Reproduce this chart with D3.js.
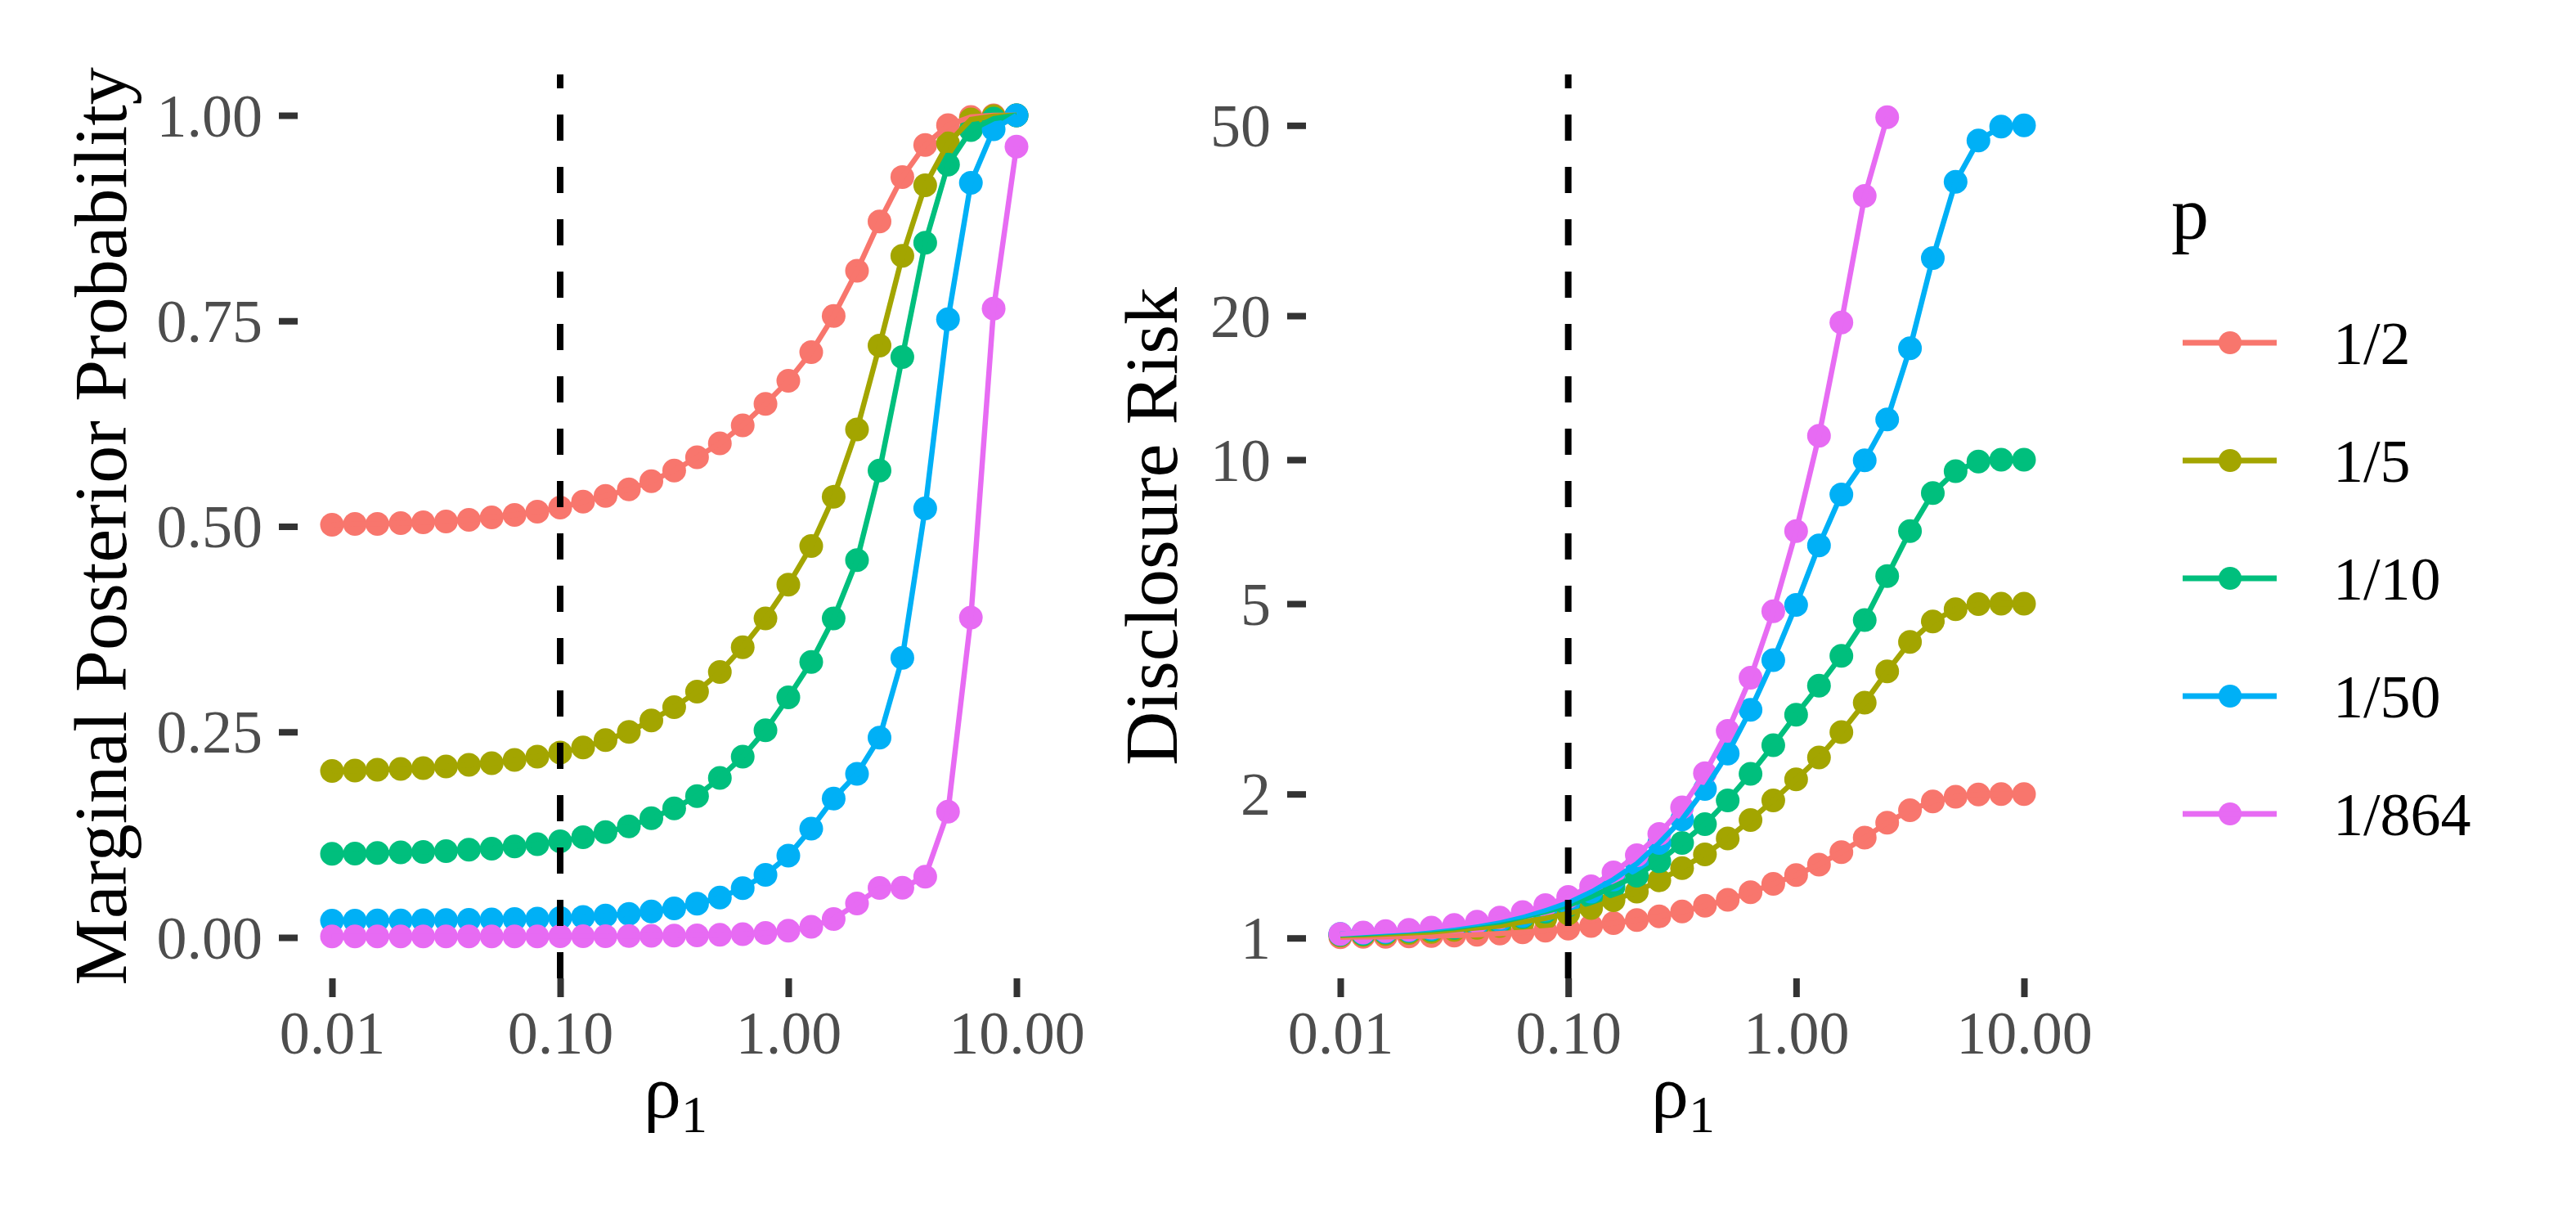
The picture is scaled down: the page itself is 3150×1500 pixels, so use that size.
<!DOCTYPE html>
<html>
<head>
<meta charset="utf-8">
<script src="https://cdn.jsdelivr.net/npm/d3@7"></script>
<style>
  body { margin: 0; background: #fff; }
</style>
</head>
<body>
<svg id="chart" width="3150" height="1500"></svg>
<script>
// rho grid (10 points per decade)
const rho = [0.01, 0.0126, 0.0158, 0.02, 0.0251, 0.0316, 0.0398, 0.0501, 0.0631, 0.0794,
  0.1, 0.126, 0.158, 0.2, 0.251, 0.316, 0.398, 0.501, 0.631, 0.794,
  1, 1.26, 1.58, 2, 2.51, 3.16, 3.98, 5.01, 6.31, 7.94, 10];

const pLabels = ['1/2', '1/5', '1/10', '1/50', '1/864'];

// marginal posterior probability, one array per p
const postHalf = [0.502, 0.503, 0.503, 0.504, 0.505, 0.506, 0.508, 0.511, 0.514, 0.518,
  0.523, 0.530, 0.537, 0.545, 0.555, 0.568, 0.584, 0.601, 0.623, 0.649,
  0.677, 0.712, 0.756, 0.811, 0.871, 0.925, 0.964, 0.988, 0.998, 1.0, 1.0];
const postFifth = [0.2025, 0.203, 0.204, 0.205, 0.206, 0.208, 0.210, 0.212, 0.216, 0.220,
  0.225, 0.231, 0.240, 0.250, 0.264, 0.280, 0.299, 0.323, 0.353, 0.388,
  0.429, 0.476, 0.536, 0.618, 0.720, 0.829, 0.915, 0.966, 0.995, 0.999, 1.0];
const postTenth = [0.1017, 0.102, 0.1027, 0.1034, 0.104, 0.105, 0.1067, 0.108, 0.1107, 0.1135,
  0.117, 0.122, 0.128, 0.135, 0.145, 0.157, 0.172, 0.194, 0.220, 0.252,
  0.292, 0.335, 0.388, 0.459, 0.568, 0.706, 0.845, 0.940, 0.982, 0.996, 1.0];
const postFiftieth = [0.0204, 0.0205, 0.0206, 0.0207, 0.0209, 0.0211, 0.0214, 0.0218, 0.0223, 0.0229,
  0.0237, 0.025, 0.0265, 0.0286, 0.0316, 0.0354, 0.041, 0.0486, 0.060, 0.0762,
  0.0994, 0.1324, 0.169, 0.199, 0.243, 0.340, 0.522, 0.752, 0.918, 0.983, 1.0];
const post864 = [0.00118, 0.00119, 0.0012, 0.0012, 0.00122, 0.00123, 0.00125, 0.00128, 0.00131, 0.00136,
  0.00141, 0.00148, 0.00159, 0.00172, 0.00191, 0.00217, 0.00256, 0.00314, 0.00405, 0.00558,
  0.0082, 0.013, 0.0224, 0.0412, 0.0602, 0.0605, 0.074, 0.153, 0.389, 0.765, 0.962];

// disclosure risk, one array per p (1/864 stops at rho = 2.51)
const riskHalf = [1.004, 1.006, 1.006, 1.008, 1.01, 1.012, 1.016, 1.022, 1.028, 1.036,
  1.046, 1.06, 1.074, 1.09, 1.11, 1.136, 1.168, 1.202, 1.246, 1.298,
  1.354, 1.424, 1.512, 1.622, 1.742, 1.85, 1.93, 1.975, 1.995, 2.0, 2.0];
const riskFifth = [1.0125, 1.015, 1.02, 1.025, 1.03, 1.04, 1.05, 1.06, 1.08, 1.10,
  1.125, 1.155, 1.20, 1.25, 1.32, 1.40, 1.495, 1.615, 1.765, 1.94,
  2.146, 2.385, 2.695, 3.105, 3.61, 4.16, 4.59, 4.87, 4.99, 5.0, 5.0];
const riskTenth = [1.017, 1.02, 1.027, 1.034, 1.04, 1.05, 1.067, 1.08, 1.107, 1.135,
  1.17, 1.22, 1.28, 1.35, 1.447, 1.58, 1.73, 1.94, 2.205, 2.53,
  2.93, 3.37, 3.89, 4.62, 5.71, 7.09, 8.52, 9.46, 9.91, 10.0, 10.0];
const riskFiftieth = [1.02, 1.025, 1.03, 1.037, 1.045, 1.057, 1.072, 1.09, 1.113, 1.145,
  1.187, 1.25, 1.325, 1.43, 1.58, 1.77, 2.05, 2.43, 3.0, 3.81,
  4.97, 6.62, 8.46, 9.97, 12.14, 17.1, 26.4, 38.1, 46.5, 49.7, 50.0];
const risk864 = [1.020, 1.027, 1.034, 1.040, 1.051, 1.065, 1.082, 1.103, 1.133, 1.171,
  1.218, 1.283, 1.371, 1.49, 1.65, 1.875, 2.21, 2.71, 3.50, 4.82,
  7.09, 11.22, 19.36, 35.6, 52.0];

const rhoTicks = [0.01, 0.1, 1, 10];
const postTicks = [0, 0.25, 0.5, 0.75, 1];
const riskTicks = [1, 2, 5, 10, 20, 50];
const cutoff = 0.1;

let svg = d3.select('#chart');
let serif = '"Liberation Serif", "Times New Roman", serif';

let color = d3.scaleOrdinal()
  .domain(pLabels)
  .range(['#F8766D', '#A3A500', '#00BF7D', '#00B0F6', '#E76BF3']);

function makeSeries(arrays) {
  return arrays.map((vals, i) => ({
    label: pLabels[i],
    points: vals.map((v, j) => ({ x: rho[j], y: v }))
  }));
}

let postSeries = makeSeries([postHalf, postFifth, postTenth, postFiftieth, post864]);
let riskSeries = makeSeries([riskHalf, riskFifth, riskTenth, riskFiftieth, risk864]);

function drawPanel(opts) {
  let x = d3.scaleLog().domain([0.01, 10]).range(opts.xRange);
  let y = opts.y;
  let g = svg.append('g');

  // points first, then lines (lines sit on top)
  opts.series.forEach(s => {
    g.append('g').selectAll('circle')
      .data(s.points)
      .join('circle')
      .attr('cx', d => x(d.x))
      .attr('cy', d => y(d.y))
      .attr('r', 14.5)
      .attr('fill', color(s.label));
  });

  let line = d3.line()
    .x(d => x(d.x))
    .y(d => y(d.y));

  opts.series.forEach(s => {
    g.append('path')
      .datum(s.points)
      .attr('fill', 'none')
      .attr('stroke', color(s.label))
      .attr('stroke-width', 6.5)
      .attr('d', line);
  });

  // dashed cutoff, drawn bottom to top
  g.append('line')
    .attr('x1', x(cutoff)).attr('x2', x(cutoff))
    .attr('y1', opts.bottom).attr('y2', opts.top)
    .attr('stroke', '#000')
    .attr('stroke-width', 8)
    .attr('stroke-dasharray', '32,32');

  // x axis
  let xAxis = d3.axisBottom(x)
    .tickValues(rhoTicks)
    .tickFormat(d3.format('.2f'))
    .tickSize(23)
    .tickPadding(19);

  let gx = svg.append('g')
    .attr('transform', `translate(0,${opts.bottom})`)
    .call(xAxis);
  gx.select('.domain').remove();
  gx.selectAll('line').attr('stroke', '#333333').attr('stroke-width', 8);
  gx.selectAll('text')
    .attr('y', 92)
    .attr('dy', null)
    .attr('fill', '#4D4D4D')
    .attr('font-family', serif)
    .attr('font-size', 74);

  // y axis
  let gy = svg.append('g')
    .attr('transform', `translate(${opts.left},0)`)
    .call(opts.yAxis.tickSize(23).tickPadding(20));
  gy.select('.domain').remove();
  gy.selectAll('line').attr('stroke', '#333333').attr('stroke-width', 8);
  gy.selectAll('text')
    .attr('dy', '0.34em')
    .attr('fill', '#4D4D4D')
    .attr('font-family', serif)
    .attr('font-size', 74);

  // x title: rho with subscript 1
  let xt = svg.append('text')
    .attr('x', opts.xTitleX)
    .attr('y', 1366)
    .attr('text-anchor', 'middle')
    .attr('font-family', serif)
    .attr('font-size', 92)
    .attr('fill', '#000');
  xt.append('tspan').text('ρ');
  xt.append('tspan').attr('font-size', 64).attr('dy', 18).text('1');

  // y title
  svg.append('text')
    .attr('transform', `translate(${opts.yTitleX},${(opts.top + opts.bottom) / 2}) rotate(-90)`)
    .attr('text-anchor', 'middle')
    .attr('font-family', serif)
    .attr('font-size', 92)
    .attr('fill', '#000')
    .text(opts.yTitle);
}

// left panel: posterior probability
let yPost = d3.scaleLinear().domain([0, 1]).range([1146, 141]);
drawPanel({
  series: postSeries,
  xRange: [406, 1243],
  y: yPost,
  yAxis: d3.axisLeft(yPost).tickValues(postTicks).tickFormat(d3.format('.2f')),
  left: 364,
  top: 91,
  bottom: 1196,
  xTitleX: 826,
  yTitleX: 154,
  yTitle: 'Marginal Posterior Probability'
});

// right panel: disclosure risk (log scale)
let yRisk = d3.scaleLog().domain([1, 50]).range([1146.7, 153.3]);
drawPanel({
  series: riskSeries,
  xRange: [1639, 2475],
  y: yRisk,
  yAxis: d3.axisLeft(yRisk).tickValues(riskTicks).tickFormat(d3.format('d')),
  left: 1597,
  top: 91,
  bottom: 1196,
  xTitleX: 2058,
  yTitleX: 1439,
  yTitle: 'Disclosure Risk'
});

// legend
let legend = svg.append('g');
legend.append('text')
  .attr('x', 2655)
  .attr('y', 292)
  .attr('font-family', serif)
  .attr('font-size', 92)
  .attr('fill', '#000')
  .text('p');

let keyY = d3.scalePoint().domain(pLabels).range([419, 995]);

let keys = legend.selectAll('g.key')
  .data(pLabels)
  .join('g')
  .attr('class', 'key')
  .attr('transform', d => `translate(0,${keyY(d)})`);

keys.append('circle')
  .attr('cx', 2727)
  .attr('cy', 0)
  .attr('r', 14)
  .attr('fill', d => color(d));

keys.append('line')
  .attr('x1', 2669).attr('x2', 2784)
  .attr('y1', 0).attr('y2', 0)
  .attr('stroke', d => color(d))
  .attr('stroke-width', 7);

keys.append('text')
  .attr('x', 2853)
  .attr('y', 26)
  .attr('font-family', serif)
  .attr('font-size', 74)
  .attr('fill', '#000')
  .text(d => d);
</script>
</body>
</html>
